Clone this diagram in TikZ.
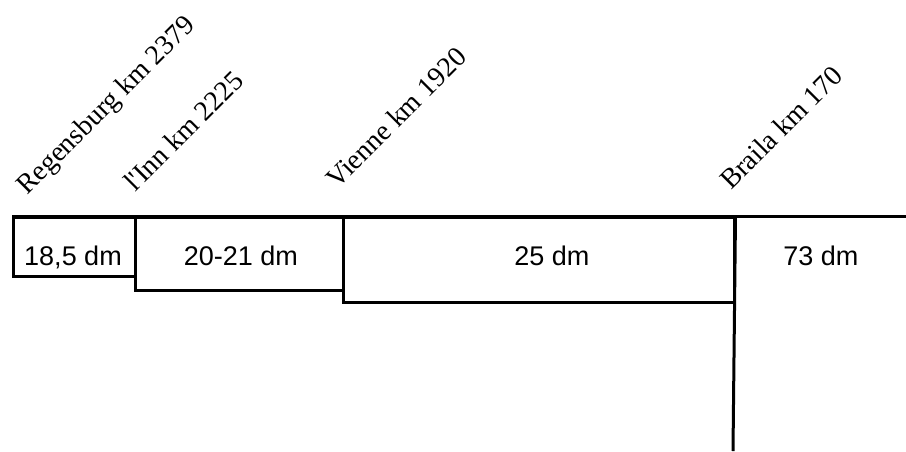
\documentclass[tikz,border=0pt]{standalone}
\usepackage{fontspec}
\setmainfont{Liberation Serif}
\newfontfamily\depthfont{Liberation Sans}
\usetikzlibrary{positioning}

\begin{document}
\begin{tikzpicture}[x=1pt, y=-1pt,
    section/.style={rectangle, draw=black, line width=2.5pt, anchor=north west, inner sep=0pt},
    place/.style={anchor=base west, inner sep=0pt, rotate=45, font=\fontsize{28}{30}\selectfont},
    depth/.style={anchor=base, inner sep=0pt, font=\depthfont\fontsize{27}{30}\selectfont},
    river/.style={line width=3pt},
  ]
  \useasboundingbox (0,0) rectangle (906,451);

  % river sections
  \node[section, minimum width=122pt, minimum height=59pt] (reg) at (12,216) {};
  \node[section, minimum width=208pt, minimum height=73pt] (inn) at (134,216) {};
  \node[section, minimum width=391pt, minimum height=85pt] (vie) at (342,216) {};
  \coordinate (east) at (906,216);
  \coordinate (south) at (733,451);
  \draw[river] (reg.north west) -- (east);
  \draw[river] (vie.north east) -- (south);

  % places
  \node[place] (lreg) at (27,196) {Regensburg km 2379};
  \node[place] (linn) at (135,193) {l\textquotesingle Inn km 2225};
  \node[place] (lvie) at (337,190) {Vienne km 1920};
  \node[place] (lbra) at (731,191) {Braila km 170};

  % depths
  \node[depth] (dreg) at (73,265) {18,5 dm};
  \node[depth] (dinn) at (241,265) {20-21 dm};
  \node[depth] (dvie) at (552,265) {25 dm};
  \node[depth] (dbra) at (821,265) {73 dm};
\end{tikzpicture}
\end{document}
